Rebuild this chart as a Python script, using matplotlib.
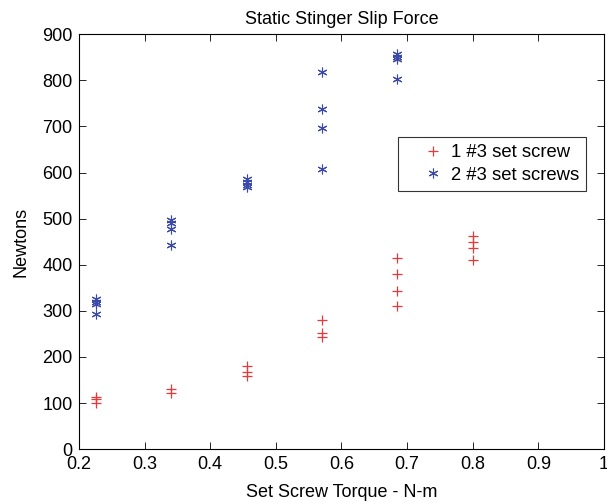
import matplotlib
matplotlib.use("Agg")
import matplotlib.pyplot as plt

plt.rcParams['font.family'] = ['Liberation Sans', 'DejaVu Sans']

# Torque (N-m) and force (N) for one set screw
t1 = [0.226, 0.226, 0.226,
      0.340, 0.340,
      0.456, 0.456, 0.456,
      0.571, 0.571, 0.571,
      0.685, 0.685, 0.685, 0.685,
      0.800, 0.800, 0.800, 0.800]
f1 = [113, 108, 100,
      131, 122,
      181, 167, 159,
      280, 252, 243,
      415, 379, 342, 310,
      463, 449, 437, 410]

# Torque (N-m) and force (N) for two set screws
t2 = [0.226, 0.226, 0.226, 0.226,
      0.340, 0.340, 0.340, 0.340,
      0.456, 0.456, 0.456, 0.456,
      0.571, 0.571, 0.571, 0.571,
      0.685, 0.685, 0.685, 0.685]
f2 = [325, 319, 314, 293,
      497, 490, 477, 443,
      586, 580, 574, 569,
      818, 737, 696, 608,
      857, 851, 846, 802]

xticks = [0.2, 0.3, 0.4, 0.5, 0.6, 0.7, 0.8, 0.9, 1.0]
xticklabels = ['0.2', '0.3', '0.4', '0.5', '0.6', '0.7', '0.8', '0.9', '1']
yticks = [0, 100, 200, 300, 400, 500, 600, 700, 800, 900]

fig = plt.figure(figsize=(6.07, 5.03), dpi=100)
ax = fig.add_axes([0.130, 0.107, 0.865, 0.825])

red = '#e8393a'
blue = '#3b4aa8'
ax.plot(t1, f1, linestyle='none', marker='+', color=red, markersize=7,
        markeredgewidth=0.9, label='1 #3 set screw')
ax.plot(t2, f2, linestyle='none', marker=(6, 2, 0), color=blue, markersize=7,
        markeredgewidth=0.8, label='2 #3 set screws')

ax.set_xlim(0.2, 1.0)
ax.set_ylim(0, 900)
ax.set_xticks(xticks)
ax.set_xticklabels(xticklabels)
ax.set_yticks(yticks)
ax.tick_params(direction='in', top=True, right=True, length=5, width=0.6,
               labelsize=13)
ax.tick_params(axis='x', pad=5)
ax.tick_params(axis='y', pad=4.5)
for s in ax.spines.values():
    s.set_linewidth(0.8)

ax.set_title('Static Stinger Slip Force', fontsize=13, pad=7.5)
ax.set_xlabel('Set Screw Torque - N-m', fontsize=13, labelpad=8)
ax.set_ylabel('Newtons', fontsize=13, labelpad=9)

leg = ax.legend(loc='upper left', bbox_to_anchor=(0.608, 0.753),
                fontsize=13.3, frameon=True, fancybox=False,
                handlelength=3.0, handletextpad=-0.55, borderpad=0.4,
                labelspacing=0.3, borderaxespad=0)
leg.get_frame().set_edgecolor('black')
leg.get_frame().set_linewidth(0.8)

fig.savefig('out.png', dpi=100)
